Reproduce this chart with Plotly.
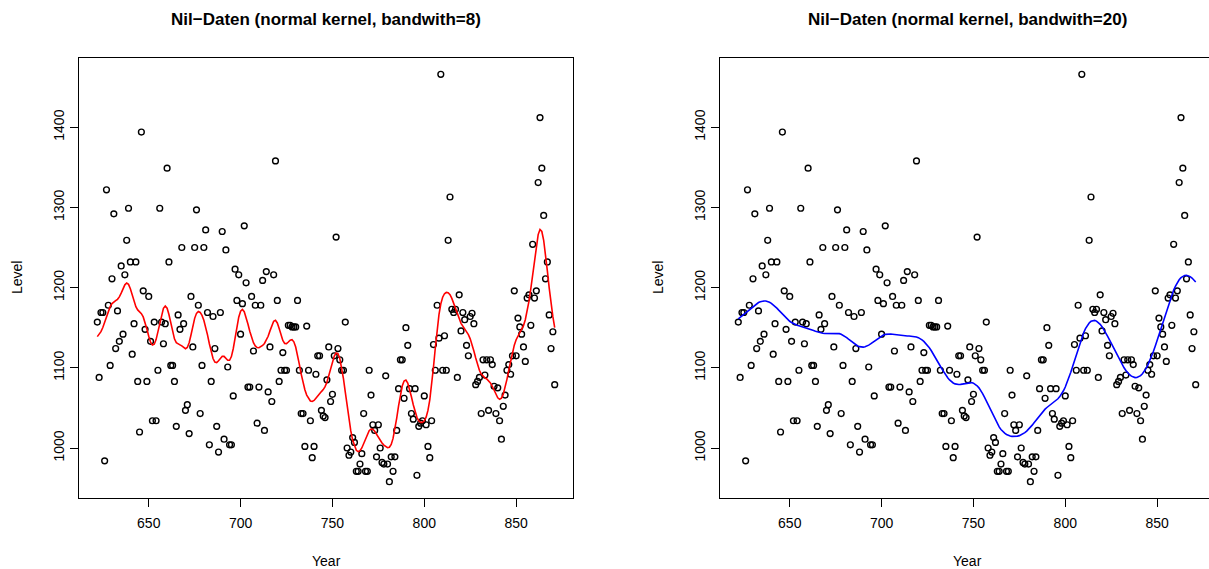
import numpy as np
import plotly.graph_objects as go

# Nile minimum levels, years 622-871
level = [
    1157, 1088, 1169, 1169, 984, 1322, 1178, 1103, 1211, 1292,
    1124, 1171, 1133, 1227, 1142, 1216, 1259, 1299, 1232, 1117,
    1155, 1232, 1083, 1020, 1394, 1196, 1148, 1083, 1189, 1133,
    1034, 1157, 1034, 1097, 1299, 1157, 1130, 1155, 1349, 1232,
    1103, 1103, 1083, 1027, 1166, 1148, 1250, 1155, 1047, 1054,
    1018, 1189, 1126, 1250, 1297, 1178, 1043, 1103, 1250, 1272,
    1169, 1004, 1083, 1164, 1124, 1027, 995, 1169, 1270, 1011,
    1247, 1101, 1004, 1004, 1065, 1223, 1184, 1216, 1142, 1180,
    1277, 1206, 1076, 1076, 1189, 1121, 1178, 1031, 1076, 1178,
    1209, 1022, 1220, 1070, 1126, 1058, 1216, 1358, 1184, 1083,
    1097, 1119, 1097, 1097, 1153, 1153, 1151, 1151, 1151, 1184,
    1097, 1043, 1043, 1002, 1152, 1097, 1034, 988, 1002, 1092,
    1115, 1115, 1047, 1040, 1038, 1085, 1126, 1058, 1067, 1115,
    1263, 1124, 1110, 1097, 1097, 1157, 1000, 991, 995, 1013,
    1007, 971, 971, 980, 993, 1043, 971, 971, 1097, 1066,
    1029, 1022, 989, 1029, 1000, 982, 980, 1090, 980, 958,
    989, 971, 989, 1022, 1074, 1110, 1110, 1062, 1150, 1128,
    1074, 1043, 1036, 1074, 966, 1027, 1031, 1034, 1065, 1029,
    1002, 988, 1034, 1129, 1097, 1178, 1137, 1466, 1097, 1140,
    1097, 1259, 1313, 1173, 1169, 1173, 1088, 1191, 1146, 1169,
    1160, 1128, 1115, 1164, 1168, 1155, 1079, 1083, 1088, 1043,
    1110, 1091, 1110, 1047, 1110, 1104, 1077, 1043, 1075, 1034,
    1011, 1052, 1066, 1097, 1104, 1092, 1115, 1196, 1115, 1162,
    1151, 1142, 1126, 1108, 1187, 1191, 1153, 1254, 1187, 1196,
    1331, 1412, 1349, 1290, 1211, 1232, 1166, 1124, 1145, 1079,
]
years = list(range(622, 622 + len(level)))

x_ticks = [650, 700, 750, 800, 850]
y_ticks = [1000, 1100, 1200, 1300, 1400]
bandwidths = [8, 20]
line_colors = ["#FF0000", "#0000FF"]
titles = ["Nil\u2212Daten (normal kernel, bandwith=8)",
          "Nil\u2212Daten (normal kernel, bandwith=20)"]


def ksmooth(x, y, bandwidth):
    """R's ksmooth(kernel='normal')."""
    x = np.asarray(x, float)
    y = np.asarray(y, float)
    bw = 0.3706506 * bandwidth
    cutoff = 4 * bw
    xp = np.linspace(x.min(), x.max(), max(100, len(x)))
    d = np.abs(x[None, :] - xp[:, None])
    w = np.where(d <= cutoff, np.exp(-0.5 * (d / bw) ** 2), 0.0)
    return xp, (w @ y) / w.sum(axis=1)


W, H = 1209, 569
FONT = "Liberation Sans, Arial, Helvetica, sans-serif"

# R style ranges (+4%)
xs = max(years) - min(years)
ys = max(level) - min(level)
xr = [min(years) - 0.04 * xs, max(years) + 0.04 * xs]
yr = [min(level) - 0.04 * ys, max(level) + 0.04 * ys]

# panel boxes in pixels
boxes = [(79, 573), (720, 1214)]
box_top, box_bot = 58, 498
ydom = [(H - box_bot) / H, (H - box_top) / H]

fig = go.Figure()
for k in range(2):
    xa = "x" if k == 0 else "x2"
    ya = "y" if k == 0 else "y2"
    fig.add_trace(go.Scatter(
        x=years, y=level, mode="markers", xaxis=xa, yaxis=ya,
        marker=dict(symbol="circle-open", size=5.8, color="black",
                    line=dict(width=1.4, color="black")),
        showlegend=False, hoverinfo="x+y"))
    sx, sy = ksmooth(years, level, bandwidths[k])
    fig.add_trace(go.Scatter(
        x=sx, y=sy, mode="lines", xaxis=xa, yaxis=ya,
        line=dict(color=line_colors[k], width=1.6),
        showlegend=False, hoverinfo="skip"))

axis_common = dict(showgrid=False, zeroline=False, showline=True,
                   linecolor="black", linewidth=1, ticks="outside",
                   ticklen=8, tickwidth=1, tickcolor="black",
                   tickfont=dict(family=FONT, size=14, color="black"))

# left panel
l0, l1 = boxes[0]
fig.update_layout(
    xaxis=dict(domain=[l0 / W, l1 / W], range=xr, tickvals=x_ticks,
               mirror=True, anchor="y", ticklabelstandoff=4, **axis_common),
    yaxis=dict(domain=ydom, range=yr, tickvals=y_ticks, tickangle=-90,
               mirror=True, anchor="x", **axis_common),
)
# right panel (cut off at the right edge of the page)
r0, r1 = boxes[1]
xr2_end = xr[0] + (W - r0) / (r1 - r0) * (xr[1] - xr[0])
fig.update_layout(
    xaxis2=dict(domain=[r0 / W, 1.0], range=[xr[0], xr2_end],
                tickvals=x_ticks, mirror=True, anchor="y2",
                ticklabelstandoff=4, **axis_common),
    yaxis2=dict(domain=ydom, range=yr, tickvals=y_ticks, tickangle=-90,
                mirror=False, anchor="x2", **axis_common),
)

annotations = []
for k in range(2):
    b0, b1 = boxes[k]
    cx = (b0 + b1) / 2 / W
    annotations.append(dict(text="<b>" + titles[k] + "</b>", x=cx, y=1 - 20 / H,
                            xref="paper", yref="paper", showarrow=False,
                            xanchor="center", yanchor="middle",
                            font=dict(family=FONT, size=17, color="black")))
    annotations.append(dict(text="Year", x=cx, y=1 - 561 / H,
                            xref="paper", yref="paper", showarrow=False,
                            xanchor="center", yanchor="middle",
                            font=dict(family=FONT, size=14, color="black")))
    annotations.append(dict(text="Level", x=(b0 - 62) / W,
                            y=1 - (box_top + box_bot) / 2 / H,
                            xref="paper", yref="paper", showarrow=False,
                            textangle=-90, xanchor="center", yanchor="middle",
                            font=dict(family=FONT, size=14, color="black")))

fig.update_layout(
    width=W, height=H, margin=dict(l=0, r=0, t=0, b=0),
    paper_bgcolor="white", plot_bgcolor="white",
    annotations=annotations,
    font=dict(family=FONT, color="black"),
)

fig.write_html("out.html")
